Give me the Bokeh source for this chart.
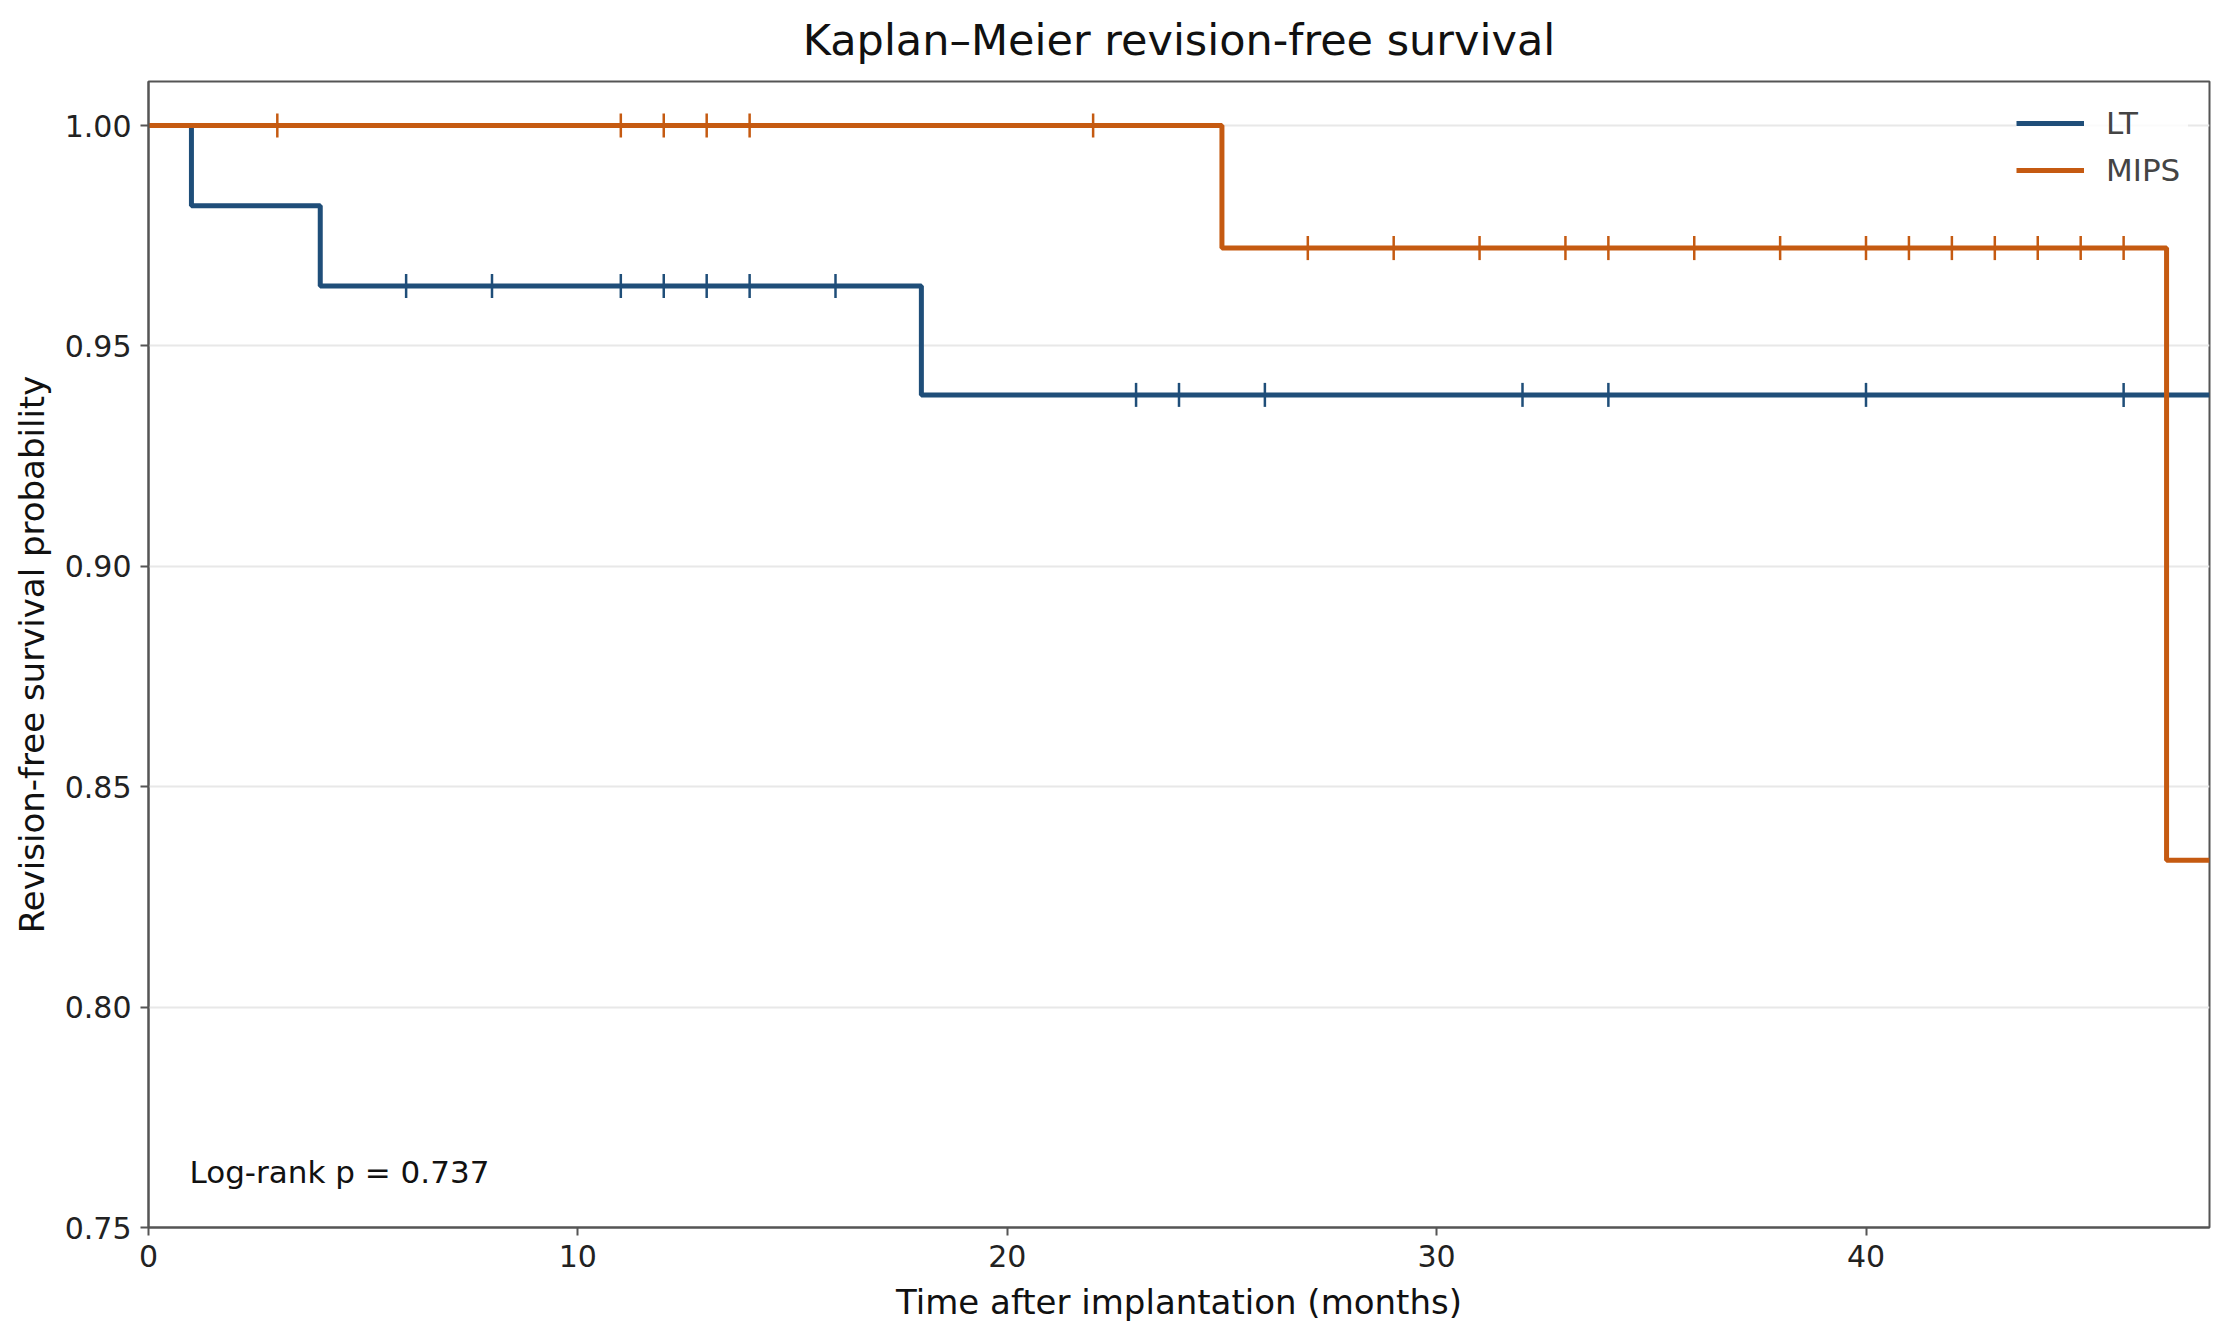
import numpy as np
from bokeh.plotting import figure
from bokeh.models import Legend, LegendItem, Label, FixedTicker, Title, CustomJSTickFormatter
from bokeh.embed import file_html
from bokeh.resources import INLINE

# Kaplan-Meier step curves (time in months, survival probability)
lt_times = [0, 1, 4, 18, 48]
lt_surv = [1.0, 0.9818, 0.9636, 0.9389, 0.9389]
lt_censor_t = [6, 8, 11, 12, 13, 14, 16, 23, 24, 26, 32, 34, 40, 46]

mips_times = [0, 25, 47, 48]
mips_surv = [1.0, 0.9722, 0.8333, 0.8333]
mips_censor_t = [3, 11, 12, 13, 14, 22, 27, 29, 31, 33, 34, 36, 38, 40, 41, 42, 43, 44, 45, 46]

LT_COLOR = "#1f4e79"
MIPS_COLOR = "#c55a11"
FONT = "DejaVu Sans"


def surv_at(times, surv, t):
    # value of the step function just after t
    idx = np.searchsorted(times, t, side="right") - 1
    return [surv[i] for i in idx]


p = figure(width=2216, height=1327, x_range=(0, 48), y_range=(0.75, 1.01),
           output_backend="svg", toolbar_location=None,
           min_border_left=148, min_border_right=7, min_border_top=80, min_border_bottom=100)

p.add_layout(Title(text="Kaplan\u2013Meier revision-free survival", align="center",
                   vertical_align="top",
                   text_font=FONT, text_font_size="43px", text_font_style="normal",
                   text_color="#111111", standoff=29), "above")

lt_line = p.step(lt_times, lt_surv, mode="after", line_color=LT_COLOR, line_width=5)
mips_line = p.step(mips_times, mips_surv, mode="after", line_color=MIPS_COLOR, line_width=5)

p.scatter(lt_censor_t, surv_at(np.array(lt_times), lt_surv, lt_censor_t), marker="dash",
          angle=np.pi / 2, size=24, line_color=LT_COLOR, line_width=2.5)
p.scatter(mips_censor_t, surv_at(np.array(mips_times), mips_surv, mips_censor_t), marker="dash",
          angle=np.pi / 2, size=24, line_color=MIPS_COLOR, line_width=2.5)

legend = Legend(items=[LegendItem(label="LT", renderers=[lt_line]),
                       LegendItem(label="MIPS", renderers=[mips_line])],
                location="top_right", border_line_color=None,
                background_fill_color="white", background_fill_alpha=0.8,
                label_text_font=FONT, label_text_font_size="31px",
                glyph_width=68, glyph_height=42, label_standoff=22, spacing=5,
                label_width=82, padding=10, margin=21)
p.add_layout(legend)

p.add_layout(Label(x=41, y=56, x_units="screen", y_units="screen", text="Log-rank p = 0.737",
                   text_font=FONT, text_font_size="31px", text_baseline="middle", text_color="#111111"))

p.xaxis.ticker = FixedTicker(ticks=[0, 10, 20, 30, 40])
p.yaxis.ticker = FixedTicker(ticks=[0.75, 0.80, 0.85, 0.90, 0.95, 1.00])
p.yaxis.formatter = CustomJSTickFormatter(code="return tick.toFixed(2);")

p.xaxis.axis_label = "Time after implantation (months)"
p.yaxis.axis_label = "Revision-free survival probability"
for ax in (p.xaxis, p.yaxis):
    ax.axis_label_text_font = FONT
    ax.axis_label_text_font_size = "34px"
    ax.axis_label_text_font_style = "normal"
    ax.axis_label_text_color = "#111111"
    ax.major_label_text_font = FONT
    ax.major_label_text_font_size = "30px"
    ax.major_label_text_color = "#222222"
    ax.major_tick_in = 0
    ax.major_tick_out = 8
    ax.minor_tick_in = 0
    ax.minor_tick_out = 0
    ax.major_tick_line_color = "#555555"
    ax.major_tick_line_width = 2
    ax.axis_line_color = "#555555"
    ax.axis_line_width = 2
    ax.major_label_standoff = 9
p.xaxis.axis_label_standoff = 12
p.yaxis.axis_label_standoff = 10

p.xgrid.grid_line_color = None
p.ygrid.grid_line_color = "#e8e8e8"
p.ygrid.grid_line_width = 2
p.outline_line_color = "#555555"
p.outline_line_width = 2
p.background_fill_color = "white"

open("out.html", "w").write(file_html(p, INLINE))
